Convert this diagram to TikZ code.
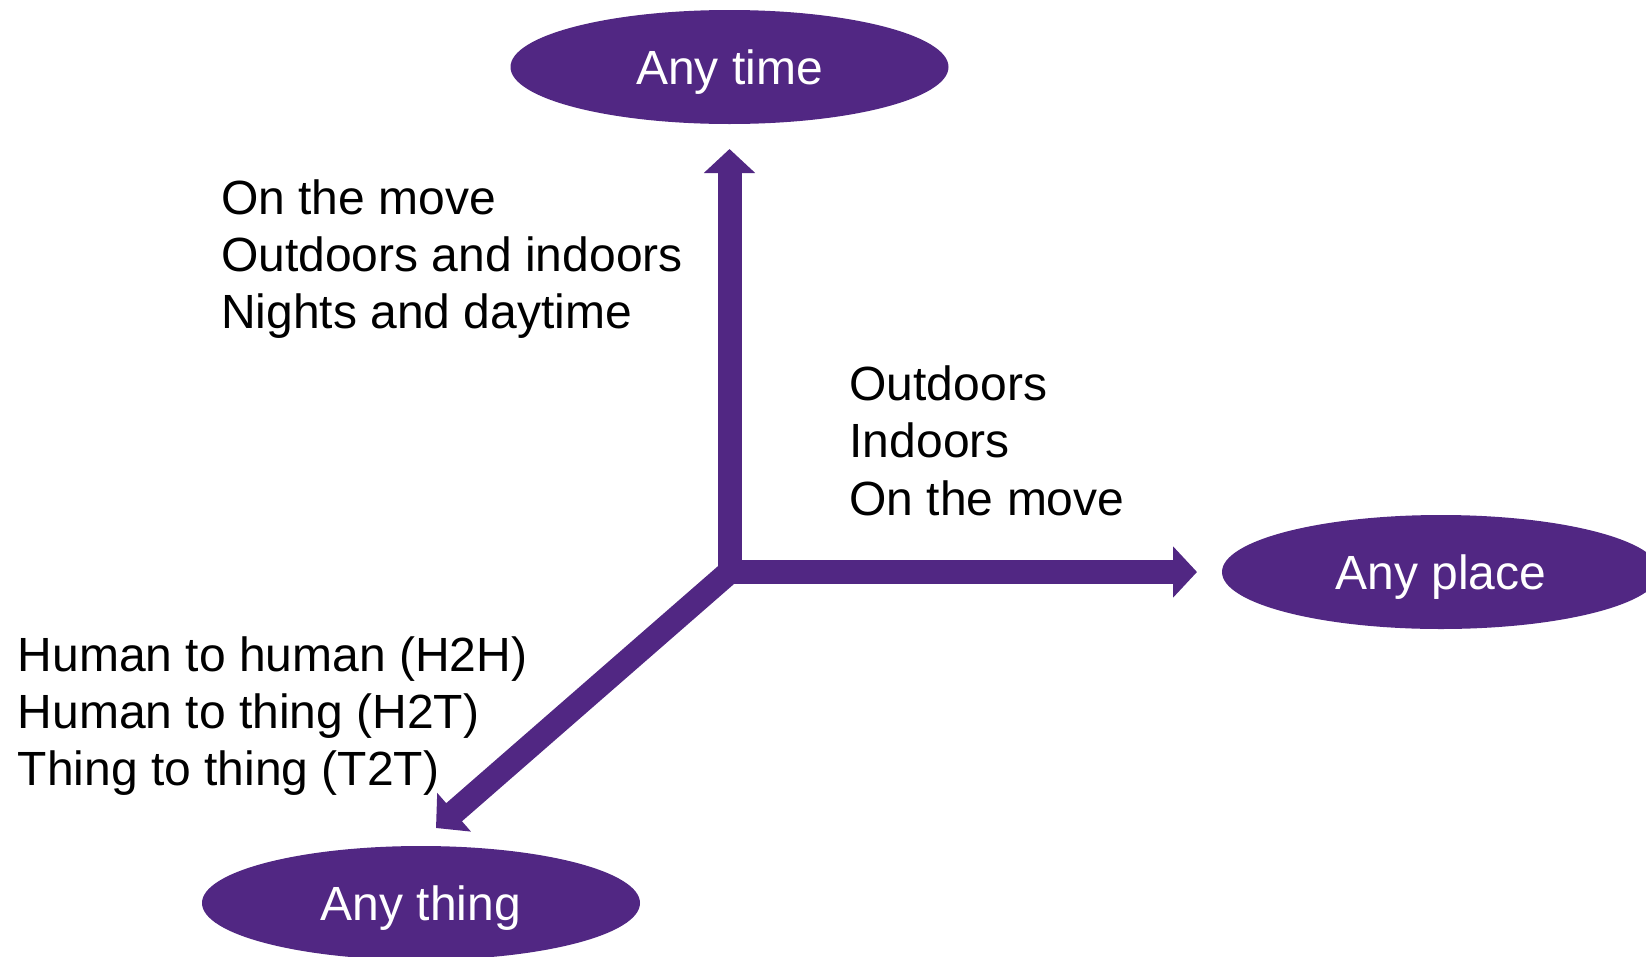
\documentclass[tikz,border=0pt]{standalone}
\usepackage{fontspec}
\setmainfont{Liberation Sans}
\usetikzlibrary{shapes.geometric,arrows.meta}
\definecolor{iotpurple}{RGB}{81,39,131}
\tikzset{
  goal/.style={ellipse, fill=iotpurple, draw=none, text=white, inner sep=0pt,
    minimum width=438pt, minimum height=114pt,
    font=\fontsize{48}{57}\selectfont, text height=34pt, text depth=0pt},
  axis/.style={draw=iotpurple, line width=24pt,
    -{Triangle[length=24pt, width=50pt]}},
  lbl/.style={anchor=base west, inner sep=0pt, text=black,
    font=\fontsize{48}{57}\selectfont}
}
\begin{document}
\begin{tikzpicture}[x=1pt, y=-1pt]
\useasboundingbox (0,0) rectangle (1646,956);
% goals
\node[goal] (time)  at (729.5,67)  {Any time};
\node[goal] (place) at (1441,572)  {Any place};
\node[goal] (thing) at (421,903)   {Any thing};
% axes
\coordinate (O)   at (729.5,572);
\coordinate (Ov)  at (729.5,584);
\coordinate (Oh)  at (718,572);
\coordinate (tT)  at (729.5,149);
\coordinate (tP)  at (1197,572);
\coordinate (tH)  at (436,828);
\draw[axis] (Ov) -- (tT);
\draw[axis] (Oh) -- (tP);
\draw[axis] (O) -- (tH);
% labels
\node[lbl] (a1) at (221,214.3) {On the move};
\node[lbl] (a2) at (221,271.7) {Outdoors and indoors};
\node[lbl] (a3) at (221,328)   {Nights and daytime};
\node[lbl] (b1) at (849.4,400)   {Outdoors};
\node[lbl] (b2) at (849.4,457.3) {Indoors};
\node[lbl] (b3) at (849.4,515)   {On the move};
\node[lbl] (c1) at (17.5,671)    {Human to human (H2H)};
\node[lbl] (c2) at (17.5,728)    {Human to thing (H2T)};
\node[lbl] (c3) at (17.5,785)    {Thing to thing (T2T)};
\end{tikzpicture}
\end{document}
